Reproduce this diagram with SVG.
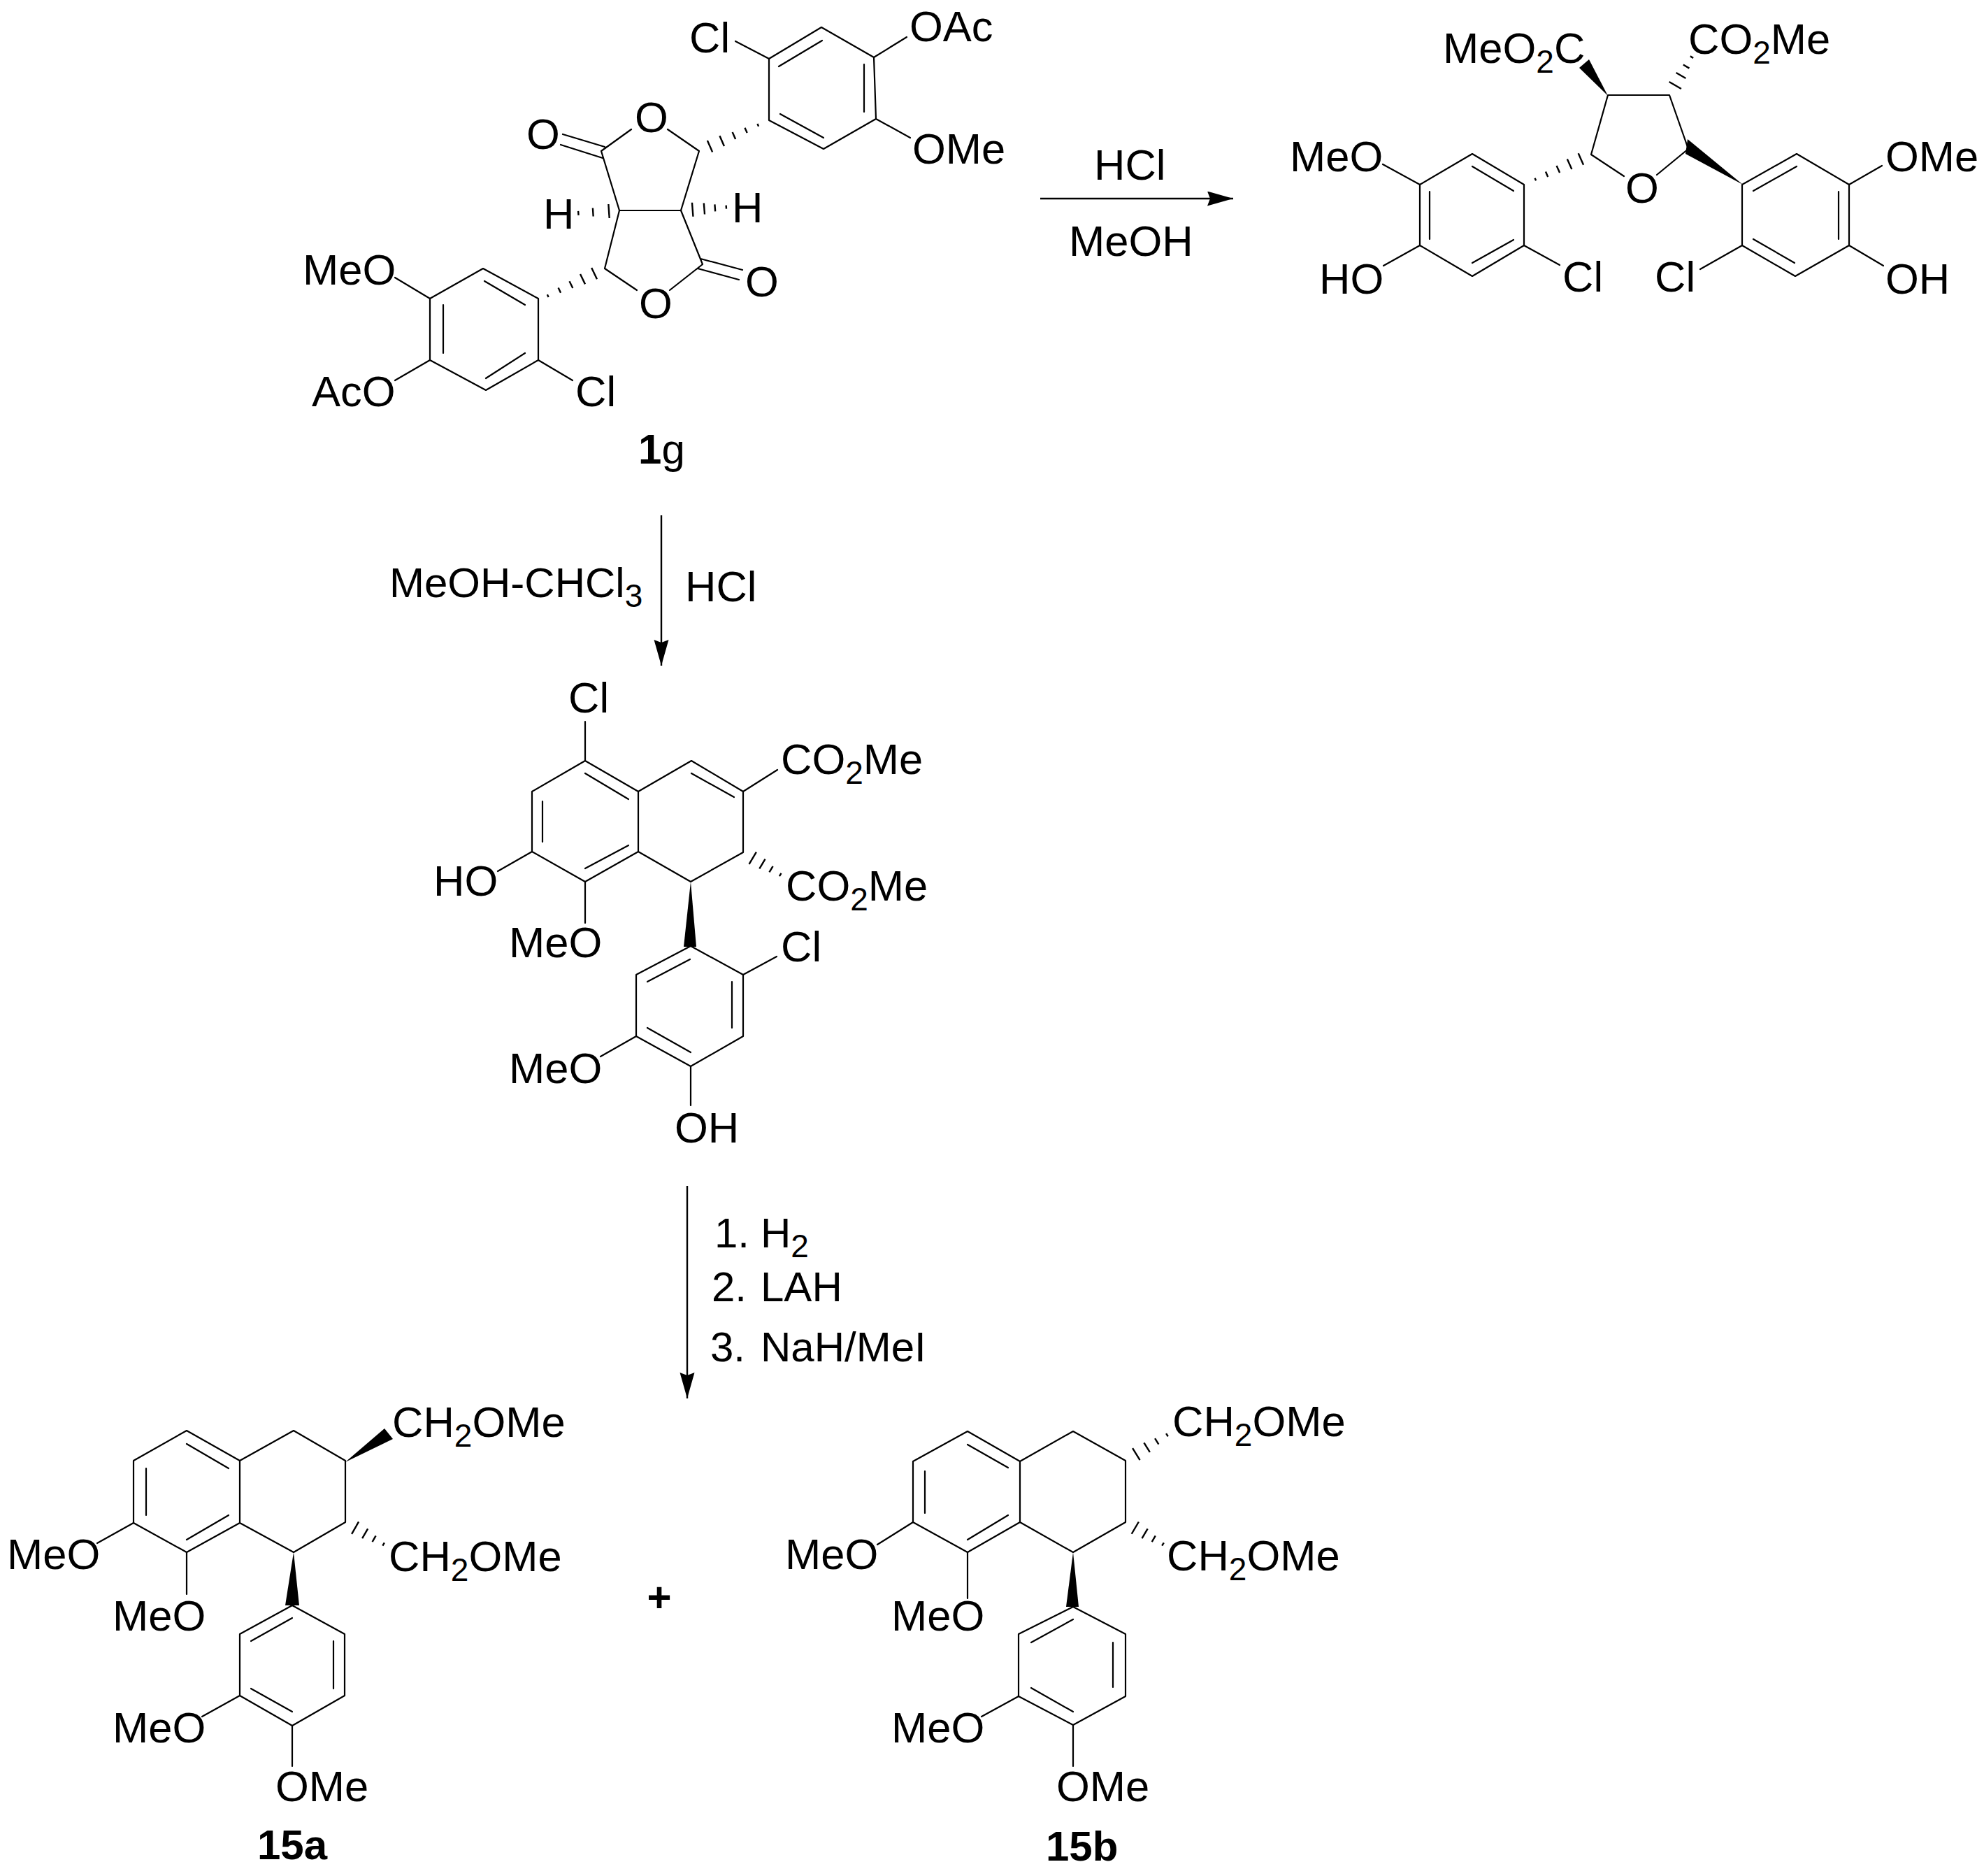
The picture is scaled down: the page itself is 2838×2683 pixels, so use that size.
<svg xmlns="http://www.w3.org/2000/svg" xmlns:xlink="http://www.w3.org/1999/xlink" width="2838" height="2683" viewBox="0 0 2838 2683">
<style>
.b{fill:none;stroke:#000;stroke-width:2.2;stroke-linecap:round;stroke-linejoin:round}
.a{fill:none;stroke:#000;stroke-width:2.4}
.w{fill:#000}
text{font-family:"Liberation Sans",Arial,sans-serif;font-size:61.5px;fill:#000}
.t{font-size:60px}
.l{font-weight:bold}
.s{font-size:46px}
.hl{stroke:#000;stroke-width:2.4;vector-effect:non-scaling-stroke}
</style>
<defs>
<g id="h3">
<line class="hl" x1="25" y1="-10" x2="25" y2="10"/>
<line class="hl" x1="63" y1="-6" x2="63" y2="6"/>
<line class="hl" x1="98" y1="-3" x2="98" y2="3"/>
</g>
<g id="h4">
<line class="hl" x1="25" y1="-10" x2="25" y2="10"/>
<line class="hl" x1="50" y1="-8" x2="50" y2="8"/>
<line class="hl" x1="73" y1="-5" x2="73" y2="5"/>
<line class="hl" x1="97" y1="-2.5" x2="97" y2="2.5"/>
</g>
<g id="h5">
<line class="hl" x1="18" y1="-9" x2="18" y2="9"/>
<line class="hl" x1="38" y1="-8" x2="38" y2="8"/>
<line class="hl" x1="58" y1="-5.5" x2="58" y2="5.5"/>
<line class="hl" x1="78" y1="-4" x2="78" y2="4"/>
<line class="hl" x1="98" y1="-2" x2="98" y2="2"/>
</g>
<marker id="ah" markerUnits="userSpaceOnUse" markerWidth="38" markerHeight="22" refX="37" refY="10.5" orient="auto">
<path d="M0 0L37 10.5L0 21L4 10.5Z" fill="#000"/>
</marker>
</defs>
<rect width="2838" height="2683" fill="#fff"/>

<g id="connectors">
<line class="a" x1="1488" y1="284" x2="1764" y2="284" marker-end="url(#ah)"/>
<line class="a" x1="946" y1="737" x2="946" y2="952" marker-end="url(#ah)"/>
<line class="a" x1="983" y1="1696" x2="983" y2="2000" marker-end="url(#ah)"/>
</g>

<g id="reagents">
<text x="1565" y="257">HCl</text>
<text x="1529" y="366">MeOH</text>
<text x="557" y="854" class="t">MeOH-CHCl<tspan class="s" dy="14">3</tspan></text>
<text x="980" y="860">HCl</text>
<text x="1022" y="1784" class="t">1.</text><text x="1088" y="1784" class="t">H<tspan class="s" dy="14">2</tspan></text>
<text x="1018" y="1861" class="t">2.</text><text x="1088" y="1861" class="t">LAH</text>
<text x="1016" y="1947" class="t">3.</text><text x="1088" y="1947" class="t">NaH/MeI</text>
<text x="943" y="2305" text-anchor="middle" class="l t">+</text>
</g>

<g id="node-1g">
<path class="b" d="M1175 39L1250 82L1253 170L1178 213L1100 172L1100 84Z"/>
<path class="b" d="M1114 95L1176 58M1236 92L1236 160M1116 163L1178 197M1052 59L1100 84M1297 53L1250 82M1253 170L1302 197"/>
<path class="b" d="M903 185L860 216L886 301L974 301L1000 216L955 185M805 192L865 210M802 207L862 226"/>
<path class="b" d="M886 301L865 384L911 415M974 301L1005 378L958 415M1002 370L1062 386M998 384L1057 400"/>
<path class="b" d="M691 384L770 427L770 515L695 558L615 515L615 427Z"/>
<path class="b" d="M693 402L751 436M634 436L634 505M695 541L751 505M565 397L615 427M565 544L615 515M770 515L819 544"/>
<use xlink:href="#h3" href="#h3" transform="translate(886 301) rotate(176.2) scale(.6 1)"/>
<use xlink:href="#h4" href="#h4" transform="translate(974 301) rotate(-4.3) scale(.67 1)"/>
<use xlink:href="#h5" href="#h5" transform="translate(1000 216) rotate(-23.8) scale(.94 1)"/>
<use xlink:href="#h5" href="#h5" transform="translate(865 384) rotate(154.3) scale(.92 1)"/>
<text x="986" y="75">Cl</text>
<text x="1301" y="59">OAc</text>
<text x="1305" y="234">OMe</text>
<text x="908" y="189">O</text>
<text x="753" y="213">O</text>
<text x="914" y="455">O</text>
<text x="1066" y="424">O</text>
<text x="777" y="327">H</text>
<text x="1047" y="318">H</text>
<text x="433" y="407">MeO</text>
<text x="446" y="581">AcO</text>
<text x="823" y="581">Cl</text>
<text x="913" y="663" class="t"><tspan class="l">1</tspan>g</text>
</g>

<g id="node-furan">
<path class="b" d="M2106 220L2180 264L2180 351L2106 395L2031 351L2031 264Z"/>
<path class="b" d="M2106 238L2165 273M2045 274L2045 342M2106 376L2165 343M1978 235L2031 264M1979 380L2031 351M2180 351L2231 379"/>
<path class="b" d="M2323 252L2276 221L2300 136L2388 136L2415 213L2370 250"/>
<path class="b" d="M2570 220L2645 264L2645 351L2568 395L2492 351L2492 264Z"/>
<path class="b" d="M2508 273L2570 238M2630 274L2630 342M2508 342L2567 376M2645 264L2692 237M2645 351L2694 380M2492 351L2432 385"/>
<polygon class="w" points="2300,137 2259,97 2273,85"/>
<polygon class="w" points="2493,264 2411,220 2414,199"/>
<use xlink:href="#h5" href="#h5" transform="translate(2276 221) rotate(156) scale(.89 1)"/>
<use xlink:href="#h4" href="#h4" transform="translate(2388 136) rotate(-59.5) scale(.65 1)"/>
<text x="2064" y="90">MeO<tspan class="s" dy="14">2</tspan><tspan dy="-14">C</tspan></text>
<text x="2415" y="77">CO<tspan class="s" dy="14">2</tspan><tspan dy="-14">Me</tspan></text>
<text x="1845" y="245">MeO</text>
<text x="1887" y="420">HO</text>
<text x="2235" y="417">Cl</text>
<text x="2367" y="417">Cl</text>
<text x="2697" y="245">OMe</text>
<text x="2697" y="420">OH</text>
<text x="2325" y="290">O</text>
</g>

<g id="node-dihydronaphthalene">
<path class="b" d="M837 1088L913 1132L913 1218L837 1261L761 1218L761 1132ZM913 1132L989 1088L1063 1132L1063 1219L988 1261L913 1218"/>
<path class="b" d="M837 1106L899 1143M776 1146L776 1204M837 1242L899 1209M989 1106L1050 1140"/>
<path class="b" d="M837 1032L837 1088M1063 1132L1112 1101M761 1218L712 1246M837 1261L837 1320"/>
<polygon class="w" points="988,1261 978,1354 996,1354"/>
<use xlink:href="#h4" href="#h4" transform="translate(1063 1219) rotate(31) scale(.64 1)"/>
<path class="b" d="M988 1353L1063 1394L1063 1482L988 1525L910 1482L910 1394Z"/>
<path class="b" d="M987 1372L926 1404M1047 1404L1047 1470M926 1470L988 1505M1063 1394L1111 1368M910 1482L859 1511M988 1525L988 1581"/>
<text x="813" y="1019">Cl</text>
<text x="1117" y="1107">CO<tspan class="s" dy="14">2</tspan><tspan dy="-14">Me</tspan></text>
<text x="1124" y="1288">CO<tspan class="s" dy="14">2</tspan><tspan dy="-14">Me</tspan></text>
<text x="620" y="1281">HO</text>
<text x="728" y="1369">MeO</text>
<text x="1117" y="1375">Cl</text>
<text x="728" y="1549">MeO</text>
<text x="965" y="1634">OH</text>
</g>

<g id="node-15a">
<path class="b" d="M267 2046L343 2089L343 2178L267 2220L191 2178L191 2089ZM343 2089L420 2046L494 2089L494 2177L420 2220L343 2178"/>
<path class="b" d="M267 2065L327 2100M209 2100L209 2167M267 2202L327 2167M191 2178L139 2207M267 2220L267 2280"/>
<polygon class="w" points="494,2091 550,2043 562,2058"/>
<use xlink:href="#h4" href="#h4" transform="translate(494 2177) rotate(30) scale(.65 1)"/>
<polygon class="w" points="420,2220 408,2296 428,2296"/>
<path class="b" d="M418 2296L493 2337L493 2425L418 2468L343 2425L343 2337Z"/>
<path class="b" d="M418 2314L359 2347M477 2347L477 2415M359 2415L418 2448M343 2425L289 2455M418 2468L418 2526"/>
<text x="561" y="2055">CH<tspan class="s" dy="14">2</tspan><tspan dy="-14">OMe</tspan></text>
<text x="556" y="2247">CH<tspan class="s" dy="14">2</tspan><tspan dy="-14">OMe</tspan></text>
<text x="10" y="2244">MeO</text>
<text x="161" y="2332">MeO</text>
<text x="161" y="2492">MeO</text>
<text x="394" y="2576">OMe</text>
<text x="368" y="2659" class="l t">15a</text>
</g>

<g id="node-15b">
<path class="b" d="M1384 2047L1459 2090L1459 2177L1384 2220L1306 2177L1306 2090ZM1459 2090L1535 2047L1610 2089L1610 2177L1535 2220L1459 2177"/>
<path class="b" d="M1384 2066L1442 2099M1323 2104L1323 2164M1384 2202L1442 2167M1306 2177L1255 2209M1384 2220L1384 2286"/>
<use xlink:href="#h4" href="#h4" transform="translate(1610 2089) rotate(-31.7) scale(.72 1)"/>
<use xlink:href="#h4" href="#h4" transform="translate(1610 2177) rotate(30.5) scale(.64 1)"/>
<polygon class="w" points="1535,2220 1525,2298 1543,2298"/>
<path class="b" d="M1535 2298L1610 2337L1610 2426L1535 2467L1457 2426L1457 2337Z"/>
<path class="b" d="M1535 2316L1475 2349M1592 2349L1592 2413M1475 2414L1535 2448M1457 2426L1404 2455M1535 2467L1535 2526"/>
<text x="1677" y="2054">CH<tspan class="s" dy="14">2</tspan><tspan dy="-14">OMe</tspan></text>
<text x="1669" y="2246">CH<tspan class="s" dy="14">2</tspan><tspan dy="-14">OMe</tspan></text>
<text x="1123" y="2244">MeO</text>
<text x="1275" y="2332">MeO</text>
<text x="1275" y="2492">MeO</text>
<text x="1511" y="2576">OMe</text>
<text x="1496" y="2661" class="l t">15b</text>
</g>
</svg>
